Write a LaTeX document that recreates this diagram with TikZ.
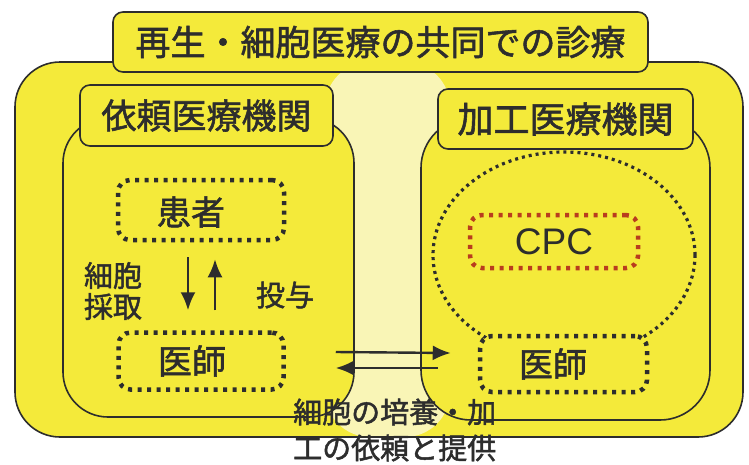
\documentclass[tikz,border=0pt]{standalone}
\usepackage{fontspec}
\setmainfont{Noto Sans CJK JP}[RawFeature={embolden=1.6}]
\newfontfamily\latinsf{Liberation Sans}
\usetikzlibrary{arrows.meta,shapes.geometric}
\definecolor{yel}{RGB}{244,234,58}
\definecolor{lightyel}{RGB}{249,245,182}
\definecolor{ink}{RGB}{45,45,45}
\definecolor{cpcred}{RGB}{185,60,30}
\pgfdeclarehorizontalshading{band}{100bp}{color(0bp)=(yel); color(25bp)=(yel); color(42bp)=(lightyel); color(56bp)=(lightyel); color(75bp)=(yel); color(100bp)=(yel)}
\begin{document}
\begin{tikzpicture}[x=1pt,y=-1pt,
  box/.style={draw=ink, line width=1.6pt, fill=yel, rectangle, inner sep=0pt},
  dotbox/.style={draw=ink, line width=4.5pt, dash pattern=on 4pt off 5.5pt, rounded corners=12pt, fill=yel, rectangle, inner sep=0pt},
  txt/.style={text=ink, inner sep=0pt},
  big/.style={font=\fontsize{35}{40}\selectfont},
  mid/.style={font=\fontsize{34}{38}\selectfont},
  small/.style={font=\fontsize{29}{31}\selectfont},
  arr/.style={draw=ink, line width=2.4pt, -{Latex[length=18pt,width=15pt]}}]
\useasboundingbox (0,0) rectangle (749,464);
\fill[white] (0,0) rectangle (749,464);
% outer container
\node (outer) [box, rounded corners=45pt, minimum width=728pt, minimum height=375pt,
  path picture={\shade[shading=band] ([xshift=-54pt]path picture bounding box.north) rectangle ([xshift=71pt]path picture bounding box.south);}]
  at (379,249.5) {};
% title
\node (title) [box, rounded corners=10pt, minimum width=535pt, minimum height=60pt, big, text=ink] at (380.5,42) {再生・細胞医療の共同での診療};
% inner organisations
\node (leftorg) [box, rounded corners=45pt, minimum width=291pt, minimum height=299pt] at (208.5,267.5) {};
\node (rightorg) [box, rounded corners=50pt, minimum width=289pt, minimum height=302pt] at (565.5,269) {};
\node (leftlabel) [box, rounded corners=10pt, minimum width=253pt, minimum height=61pt, big, text=ink] at (206.5,115.5) {依頼医療機関};
\node (rightlabel) [box, rounded corners=10pt, minimum width=255pt, minimum height=60pt, font=\fontsize{36}{40}\selectfont, text=ink] at (565.5,119) {加工医療機関};
% CPC zone
\node (cpczone) [ellipse, draw=ink, line width=3.2pt, dash pattern=on 3pt off 4pt, minimum width=262pt, minimum height=206pt, inner sep=0pt] at (564,255) {};
\node (cpc) [dotbox, draw=cpcred, minimum width=168pt, minimum height=53pt, font=\latinsf\fontsize{37}{40}\selectfont, text=ink] at (554,241.5) {CPC};
% dotted boxes
\node (patient) [dotbox, minimum width=166pt, minimum height=60pt] at (201,210) {};
\node (leftdoc) [dotbox, minimum width=165pt, minimum height=57pt] at (201,361) {};
\node (rightdoc) [dotbox, minimum width=167pt, minimum height=56pt] at (563.5,364) {};
\node (patienttxt) [txt, mid] at (191,212) {患者};
\node (leftdoctxt) [txt, mid] at (192,361) {医師};
\node (rightdoctxt) [txt, mid] at (553,364) {医師};
% vertical arrows
\draw[arr] ([xshift=-13pt,yshift=-15pt]patient.south) -- ([xshift=-13pt,yshift=20pt]leftdoc.north);
\draw[arr] ([xshift=14pt,yshift=20pt]leftdoc.north) -- ([xshift=14pt,yshift=-17pt]patient.south);
\node (collect) [txt, small, align=left] at (113,291) {細胞\\採取};
\node (dose) [txt, small] at (285,295) {投与};
% horizontal arrows
\draw[arr] ([xshift=50pt,yshift=9pt]leftdoc.east) -- ([xshift=-27pt,yshift=11pt]rightdoc.west);
\draw[arr] ([xshift=-40pt,yshift=-4pt]rightdoc.west) -- ([xshift=50pt,yshift=-7pt]leftdoc.east);
% bottom caption
\node (caption) [txt, font=\fontsize{29}{36}\selectfont, align=left, anchor=west] at (293,430) {細胞の培養・加\\工の依頼と提供};
\end{tikzpicture}
\end{document}
